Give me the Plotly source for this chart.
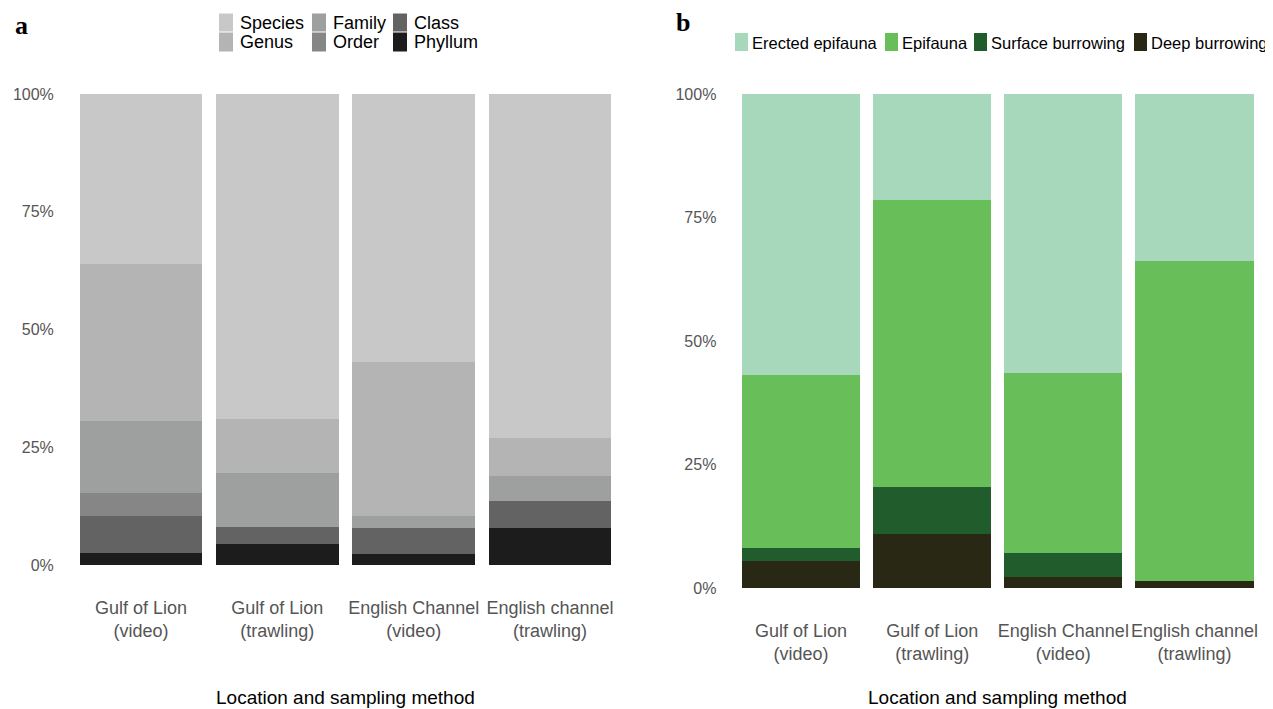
import plotly.graph_objects as go

# categories
sites = ["Gulf of Lion<br>(video)", "Gulf of Lion<br>(trawling)",
         "English Channel<br>(video)", "English channel<br>(trawling)"]

# panel a: share of taxa identified at each taxonomic level (%), bottom to top
phyllum = [2.6, 4.4, 2.3, 7.9]
class_ = [7.7, 3.7, 5.6, 5.7]
order = [4.9, 0.0, 0.0, 0.0]
family = [15.4, 11.4, 2.4, 5.3]
genus = [33.4, 11.6, 32.9, 8.0]
species = [36.0, 68.9, 56.8, 73.1]

# panel b: share of bioturbation groups (%), bottom to top
deep_burrowing = [5.4, 11.0, 2.3, 1.5]
surface_burrowing = [2.7, 9.4, 4.8, 0.0]
epifauna = [35.0, 58.2, 36.4, 64.7]
erected_epifauna = [56.9, 21.4, 56.5, 33.8]

y_ticks = [0, 25, 50, 75, 100]
y_labels = ["0%", "25%", "50%", "75%", "100%"]

# the page body adds an 8px margin, so the figure is drawn 8px smaller
OFF = 8
W, H = 1273 - OFF, 709 - OFF
FONT = "Liberation Sans, Arial, sans-serif"


def px(x):
    return (x - OFF) / W


def py(y):
    return 1 - (y - OFF) / H


taxa = [("Phyllum", phyllum, "#1c1c1c"), ("Class", class_, "#636363"),
        ("Order", order, "#868686"), ("Family", family, "#9e9f9f"),
        ("Genus", genus, "#b4b4b4"), ("Species", species, "#c8c8c8")]
groups = [("Deep burrowing", deep_burrowing, "#282815"),
          ("Surface burrowing", surface_burrowing, "#215c2d"),
          ("Epifauna", epifauna, "#68bf5a"),
          ("Erected epifauna", erected_epifauna, "#a8d8bb")]

fig = go.Figure()
for name, vals, col in taxa:
    fig.add_trace(go.Bar(x=sites, y=vals, name=name, marker_color=col,
                         marker_line_width=0, showlegend=False,
                         xaxis="x", yaxis="y"))
for name, vals, col in groups:
    fig.add_trace(go.Bar(x=sites, y=vals, name=name, marker_color=col,
                         marker_line_width=0, showlegend=False,
                         xaxis="x2", yaxis="y2"))

xcommon = dict(showgrid=False, zeroline=False, showline=False, ticks="",
               automargin=False,
               tickfont=dict(family=FONT, size=18, color="#555555"),
               ticklabelstandoff=30)
ycommon = dict(range=[0, 100], tickvals=y_ticks, ticktext=y_labels,
               showgrid=False, zeroline=False, showline=False, ticks="",
               automargin=False,
               tickfont=dict(family=FONT, size=16, color="#555555"),
               ticklabelstandoff=18)

fig.update_layout(
    width=W, height=H,
    margin=dict(l=0, r=0, t=0, b=0, autoexpand=False),
    paper_bgcolor="white", plot_bgcolor="white",
    barmode="stack", bargap=0.1, showlegend=False,
    xaxis=dict(domain=[px(72.8), px(618.2)], anchor="y", **xcommon),
    yaxis=dict(domain=[py(565), py(94)], anchor="x", **ycommon),
    xaxis2=dict(domain=[px(735.4), px(1260.1)], anchor="y2", **xcommon),
    yaxis2=dict(domain=[py(588), py(94)], anchor="x2", **ycommon),
)

ann = []
shapes = []
# panel letters
ann.append(dict(x=px(21), y=py(26), text="<b>a</b>",
                font=dict(family="Liberation Serif, serif", size=26, color="black")))
ann.append(dict(x=px(683), y=py(23), text="<b>b</b>",
                font=dict(family="Liberation Serif, serif", size=26, color="black")))
# axis titles
for cx in [(72.8 + 618.2) / 2, (735.4 + 1260.1) / 2]:
    ann.append(dict(x=px(cx), y=py(697), text="Location and sampling method",
                    font=dict(family=FONT, size=19, color="black")))

# legend a: two rows, three columns
legend_a = [("Species", 219, 13, 32), ("Genus", 219, 32, 52),
            ("Family", 312, 13, 32), ("Order", 312, 32, 52),
            ("Class", 393, 13, 32), ("Phyllum", 393, 32, 52)]
col_a = {n: c for n, _, c in taxa}
for name, x0, y0, y1 in legend_a:
    shapes.append(dict(type="rect", xref="paper", yref="paper",
                       x0=px(x0), x1=px(x0 + 14), y0=py(y1 - 0.5), y1=py(y0 + 0.5),
                       fillcolor=col_a[name], line_width=0))
    ann.append(dict(x=px(x0 + 19), y=py((y0 + y1) / 2), text=name,
                    xanchor="left",
                    font=dict(family=FONT, size=18, color="black")))

# legend b: single row
legend_b = [("Erected epifauna", 735), ("Epifauna", 885),
            ("Surface burrowing", 974), ("Deep burrowing", 1134)]
col_b = {n: c for n, _, c in groups}
for name, x0 in legend_b:
    shapes.append(dict(type="rect", xref="paper", yref="paper",
                       x0=px(x0), x1=px(x0 + 13), y0=py(51), y1=py(33),
                       fillcolor=col_b[name], line_width=0))
    ann.append(dict(x=px(x0 + 15), y=py(43), text=name, xanchor="left",
                    font=dict(family=FONT, size=16.5, color="black")))

for a in ann:
    a.setdefault("xref", "paper")
    a.setdefault("yref", "paper")
    a.setdefault("xanchor", "center")
    a.setdefault("yanchor", "middle")
    a.setdefault("showarrow", False)
fig.update_layout(annotations=ann, shapes=shapes)

fig.write_html("out.html")
